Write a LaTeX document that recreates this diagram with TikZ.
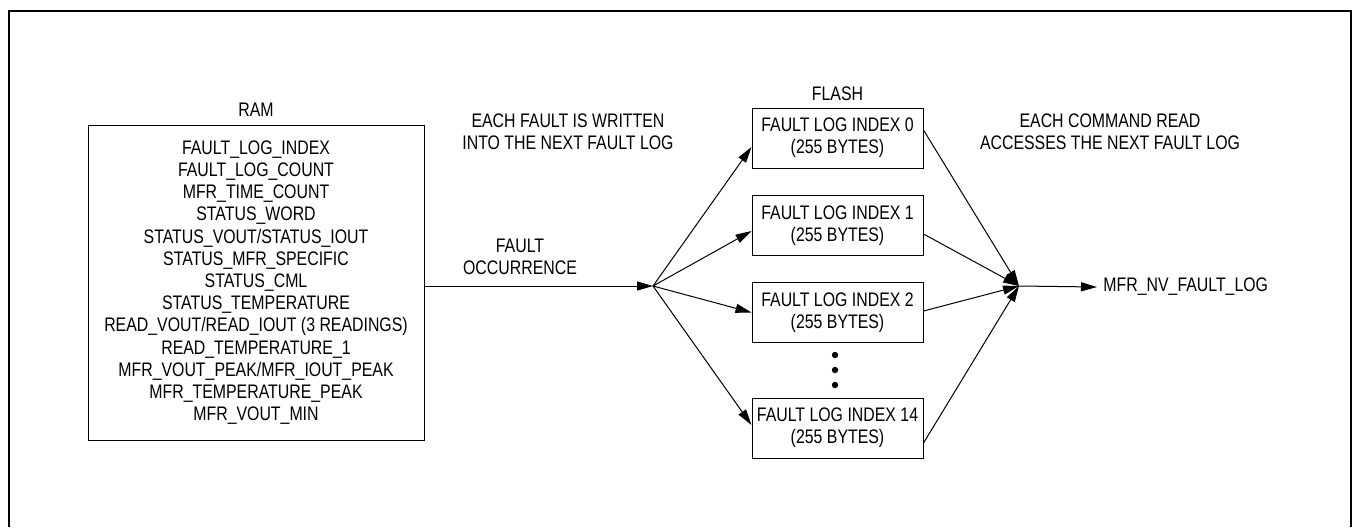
\documentclass[tikz,border=0pt]{standalone}
\usepackage{fontspec}
\setmainfont{Liberation Sans}[FakeStretch=0.81]
\usepackage{tikz}
\usetikzlibrary{arrows.meta}

\tikzset{
    txt/.style={font=\fontsize{9.8}{11.1}\selectfont,inner sep=0pt,align=center},
    logbox/.style={txt,shape=rectangle,draw=black,line width=0.5pt,minimum width=85.5pt,minimum height=30pt},
    flow/.style={-{Triangle[length=8pt,width=4.5pt]},line width=0.5pt}
}

\begin{document}
\begin{tikzpicture}[x=0.5pt,y=-0.5pt]
    \useasboundingbox (0,0) rectangle (1353,527);
    % outer frame, open at the bottom
    \draw[line width=1pt] (9,527) -- (9,11) -- (1351,11) -- (1351,527);

    % RAM side
    \node[txt] (ramlbl) at (256,110) {RAM};
    \node[txt,shape=rectangle,draw=black,line width=0.5pt,minimum width=168pt,minimum height=157.5pt] (ram) at (256,282.5)
        {FAULT\_LOG\_INDEX\\FAULT\_LOG\_COUNT\\MFR\_TIME\_COUNT\\STATUS\_WORD\\STATUS\_VOUT/STATUS\_IOUT\\STATUS\_MFR\_SPECIFIC\\STATUS\_CML\\STATUS\_TEMPERATURE\\READ\_VOUT/READ\_IOUT (3 READINGS)\\READ\_TEMPERATURE\_1\\MFR\_VOUT\_PEAK/MFR\_IOUT\_PEAK\\MFR\_TEMPERATURE\_PEAK\\MFR\_VOUT\_MIN};
    \node[txt] (occur) at (520,256.5) {FAULT\\OCCURRENCE};
    \node[txt] (written) at (568,131.5) {EACH FAULT IS WRITTEN\\INTO THE NEXT FAULT LOG};

    % FLASH side
    \node[txt] (flashlbl) at (837.5,94) {FLASH};
    \node[logbox] (log0) at (837.5,138) {FAULT LOG INDEX 0\\(255 BYTES)};
    \node[logbox] (log1) at (837.5,225.5) {FAULT LOG INDEX 1\\(255 BYTES)};
    \node[logbox] (log2) at (837.5,312.5) {FAULT LOG INDEX 2\\(255 BYTES)};
    \node[logbox] (log14) at (837.5,428) {FAULT LOG INDEX 14\\(255 BYTES)};
    \foreach \y in {355,370,385}
        \fill (835,\y) circle (1.6pt);

    \node[txt] (reads) at (1110,131.5) {EACH COMMAND READ\\ACCESSES THE NEXT FAULT LOG};
    \node[txt,anchor=west] (nvlog) at (1103,287) {MFR\_NV\_FAULT\_LOG};

    \coordinate (fan) at (653,286);
    \coordinate (merge) at (1019,286);

    \path [flow] (fan -| ram.east) edge (fan);
    \path [flow] (fan) edge ([yshift=-4.5pt]log0.west);
    \path [flow] (fan) edge ([yshift=-2.75pt]log1.west);
    \path [flow] (fan) edge (log2.west);
    \path [flow] (fan) edge ([yshift=1.5pt]log14.west);

    \path [flow] ([yshift=4pt]log0.east) edge (merge);
    \path [flow] ([yshift=-4.25pt]log1.east) edge (merge);
    \path [flow] ([yshift=0.75pt]log2.east) edge (merge);
    \path [flow] ([yshift=-7.5pt]log14.east) edge (merge);
    \path [flow] (merge) edge ([xshift=-3pt]nvlog.west);
\end{tikzpicture}
\end{document}
